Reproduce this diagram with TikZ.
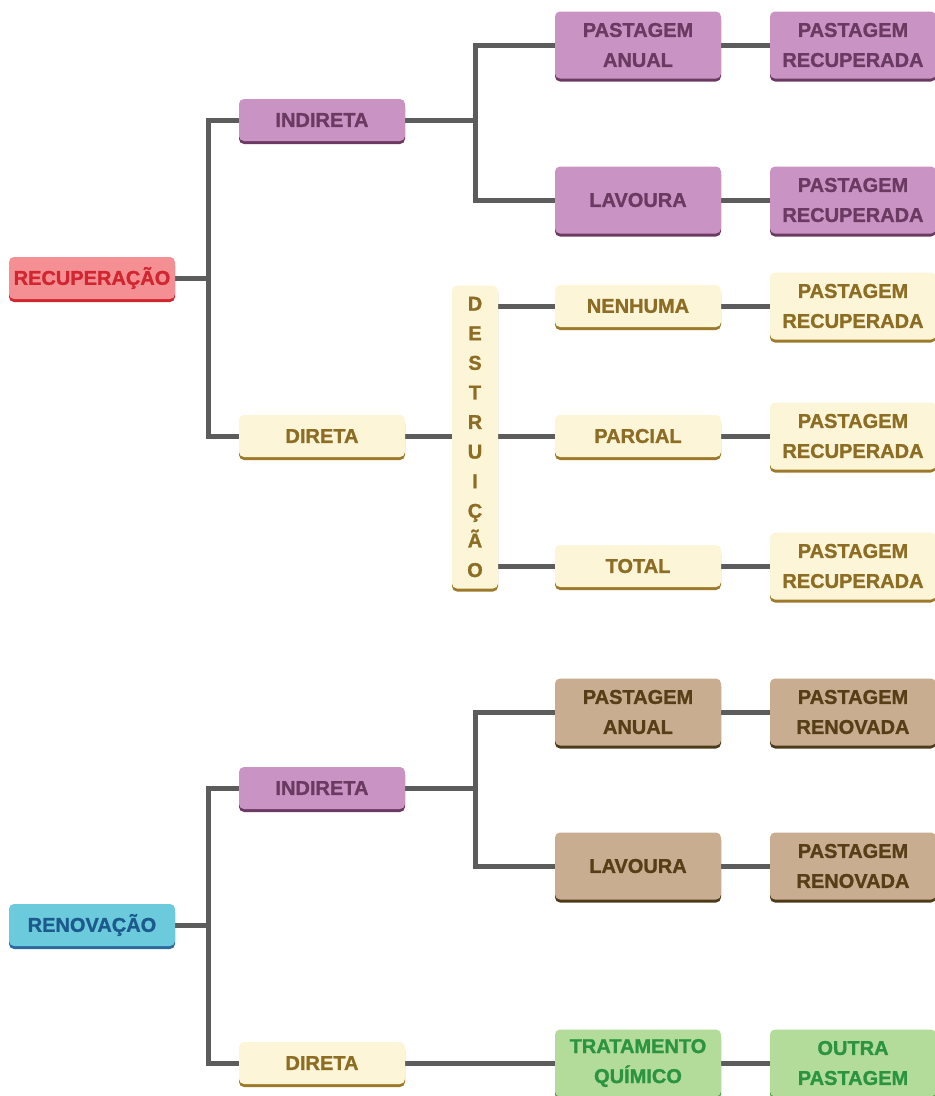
\documentclass[tikz,border=0pt]{standalone}
\usepackage{fontspec}
\setmainfont{Liberation Sans}[BoldFeatures={FakeBold=1.2}]
\usetikzlibrary{shadows,backgrounds}
\definecolor{purF}{HTML}{C994C3}\definecolor{purT}{HTML}{6B3A62}\definecolor{purE}{HTML}{6B3A62}
\definecolor{redF}{HTML}{F48F94}\definecolor{redT}{HTML}{D12530}\definecolor{redE}{HTML}{D12530}
\definecolor{creF}{HTML}{FDF5D8}\definecolor{creT}{HTML}{8C6D23}\definecolor{creE}{HTML}{9C7A2A}
\definecolor{bluF}{HTML}{6BCBDC}\definecolor{bluT}{HTML}{1C5A8E}\definecolor{bluE}{HTML}{2A6AA0}
\definecolor{broF}{HTML}{C9AD91}\definecolor{broT}{HTML}{563F16}\definecolor{broE}{HTML}{4D3A18}
\definecolor{grnF}{HTML}{B3DB9A}\definecolor{grnT}{HTML}{2B9440}\definecolor{grnE}{HTML}{4E9A40}
\definecolor{lineC}{HTML}{5C5C5C}
\tikzset{
  bx/.style={rounded corners=5pt, minimum width=166pt, minimum height=42pt, inner sep=0pt, align=center,
    font=\bfseries\fontsize{20}{30}\selectfont, fill=#1F, text=#1T,
    general shadow={fill=#1E, shadow yshift=-3pt}},
  tall/.style={minimum height=67pt},
  conn/.style={draw=lineC, line width=5pt}
}
\begin{document}
\begin{tikzpicture}[x=1pt,y=-1pt]
\useasboundingbox (0,0) rectangle (935,1096);
% top tree
\node[bx=red] (rec) at (92,278) {RECUPERAÇÃO};
\node[bx=pur] (ind1) at (322,120) {INDIRETA};
\node[bx=cre] (dir1) at (322,436) {DIRETA};
\node[bx=pur,tall] (pa1) at (638,45) {PASTAGEM\\ANUAL};
\node[bx=pur,tall] (pr1) at (853,45) {PASTAGEM\\RECUPERADA};
\node[bx=pur,tall] (lav1) at (638,200) {LAVOURA};
\node[bx=pur,tall] (pr2) at (853,200) {PASTAGEM\\RECUPERADA};
\node[bx=cre, minimum width=46pt, minimum height=303pt, font=\bfseries\fontsize{20}{29.6}\selectfont] (des) at (475,437) {D\\E\\S\\T\\R\\U\\I\\Ç\\Ã\\O};
\node[bx=cre] (nen) at (638,306) {NENHUMA};
\node[bx=cre,tall] (pr3) at (853,306) {PASTAGEM\\RECUPERADA};
\node[bx=cre] (par) at (638,436) {PARCIAL};
\node[bx=cre,tall] (pr4) at (853,436) {PASTAGEM\\RECUPERADA};
\node[bx=cre] (tot) at (638,566) {TOTAL};
\node[bx=cre,tall] (pr5) at (853,566) {PASTAGEM\\RECUPERADA};
% bottom tree
\node[bx=blu] (ren) at (92,925) {RENOVAÇÃO};
\node[bx=pur] (ind2) at (322,788) {INDIRETA};
\node[bx=cre] (dir2) at (322,1063) {DIRETA};
\node[bx=bro,tall] (pa2) at (638,712) {PASTAGEM\\ANUAL};
\node[bx=bro,tall] (rn1) at (853,712) {PASTAGEM\\RENOVADA};
\node[bx=bro,tall] (lav2) at (638,866) {LAVOURA};
\node[bx=bro,tall] (rn2) at (853,866) {PASTAGEM\\RENOVADA};
\node[bx=grn,tall] (tq) at (638,1063) {TRATAMENTO\\QUÍMICO};
\node[bx=grn,tall] (op) at (853,1063) {OUTRA\\PASTAGEM};
% junctions
\coordinate (j1) at (208,278);
\coordinate (j2) at (475,120);
\coordinate (j3) at (208,925);
\coordinate (j4) at (475,788);
\begin{scope}[on background layer]
\draw[conn] (ind1.west) -| (j1);
\draw[conn] (dir1.west) -| (j1);
\draw[conn] (rec.east) -- (j1);
\draw[conn] (pa1.west) -| (j2);
\draw[conn] (lav1.west) -| (j2);
\draw[conn] (ind1.east) -- (j2);
\draw[conn] (pa1.east) -- (pr1.west);
\draw[conn] (lav1.east) -- (pr2.west);
\draw[conn] (dir1.east) -- (des.west |- dir1.east);
\draw[conn] (des.east |- nen.west) -- (nen.west);
\draw[conn] (des.east |- par.west) -- (par.west);
\draw[conn] (des.east |- tot.west) -- (tot.west);
\draw[conn] (nen.east) -- (pr3.west);
\draw[conn] (par.east) -- (pr4.west);
\draw[conn] (tot.east) -- (pr5.west);
\draw[conn] (ind2.west) -| (j3);
\draw[conn] (dir2.west) -| (j3);
\draw[conn] (ren.east) -- (j3);
\draw[conn] (pa2.west) -| (j4);
\draw[conn] (lav2.west) -| (j4);
\draw[conn] (ind2.east) -- (j4);
\draw[conn] (pa2.east) -- (rn1.west);
\draw[conn] (lav2.east) -- (rn2.west);
\draw[conn] (dir2.east) -- (tq.west);
\draw[conn] (tq.east) -- (op.west);
\end{scope}
\end{tikzpicture}
\end{document}
